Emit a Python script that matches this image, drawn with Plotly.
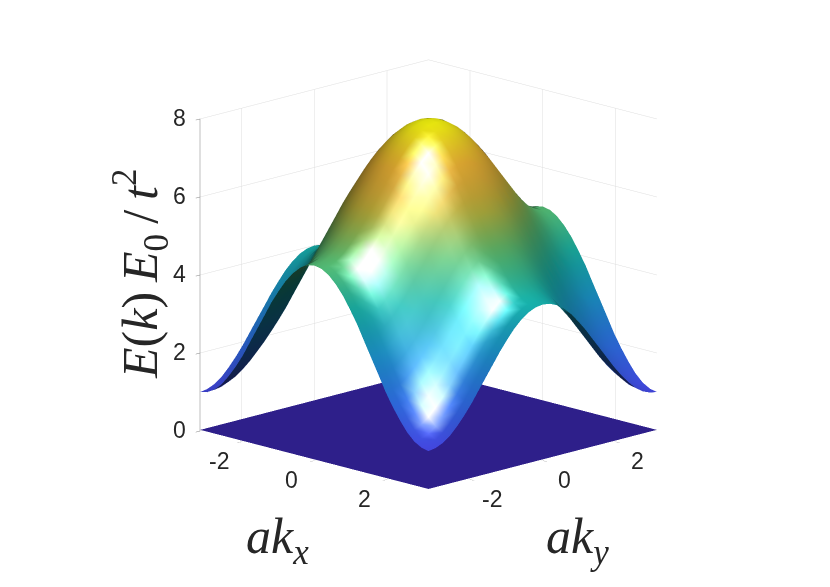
import numpy as np
import plotly.graph_objects as go

# k axes, pi/16 steps
ak_half = [-3.14, -2.95, -2.75, -2.55, -2.36, -2.16, -1.96, -1.77, -1.57, -1.37, -1.18, -0.98, -0.79, -0.59, -0.39, -0.20, 0]
ak_x = ak_half + [-k for k in ak_half[-2::-1]]
ak_y = ak_half + [-k for k in ak_half[-2::-1]]

# upper band, one quadrant (the band is mirrored about both axes)
quadrant = [
    [1.00, 1.04, 1.15, 1.34, 1.59, 1.89, 2.23, 2.61, 3.00, 3.39, 3.77, 4.11, 4.41, 4.66, 4.85, 4.96, 5.00],
    [1.03, 1.07, 1.18, 1.37, 1.62, 1.92, 2.26, 2.64, 3.03, 3.42, 3.80, 4.14, 4.44, 4.69, 4.88, 4.99, 5.03],
    [1.11, 1.15, 1.26, 1.45, 1.70, 2.00, 2.34, 2.72, 3.11, 3.50, 3.88, 4.22, 4.52, 4.77, 4.96, 5.07, 5.11],
    [1.25, 1.29, 1.40, 1.59, 1.84, 2.14, 2.48, 2.86, 3.25, 3.64, 4.02, 4.36, 4.66, 4.91, 5.10, 5.21, 5.25],
    [1.44, 1.48, 1.59, 1.78, 2.03, 2.33, 2.67, 3.05, 3.44, 3.83, 4.21, 4.55, 4.85, 5.10, 5.29, 5.40, 5.44],
    [1.67, 1.71, 1.82, 2.01, 2.26, 2.56, 2.90, 3.28, 3.67, 4.06, 4.44, 4.78, 5.08, 5.33, 5.52, 5.63, 5.67],
    [1.93, 1.97, 2.08, 2.27, 2.52, 2.82, 3.16, 3.54, 3.93, 4.32, 4.70, 5.04, 5.34, 5.59, 5.78, 5.89, 5.93],
    [2.21, 2.25, 2.36, 2.55, 2.80, 3.10, 3.44, 3.82, 4.21, 4.60, 4.98, 5.32, 5.62, 5.87, 6.06, 6.17, 6.21],
    [2.50, 2.54, 2.65, 2.84, 3.09, 3.39, 3.73, 4.11, 4.50, 4.89, 5.27, 5.61, 5.91, 6.16, 6.35, 6.46, 6.50],
    [2.79, 2.83, 2.94, 3.13, 3.38, 3.68, 4.02, 4.40, 4.79, 5.18, 5.56, 5.90, 6.20, 6.45, 6.64, 6.75, 6.79],
    [3.07, 3.11, 3.22, 3.41, 3.66, 3.96, 4.30, 4.68, 5.07, 5.46, 5.84, 6.18, 6.48, 6.73, 6.92, 7.03, 7.07],
    [3.33, 3.37, 3.48, 3.67, 3.92, 4.22, 4.56, 4.94, 5.33, 5.72, 6.10, 6.44, 6.74, 6.99, 7.18, 7.29, 7.33],
    [3.56, 3.60, 3.71, 3.90, 4.15, 4.45, 4.79, 5.17, 5.56, 5.95, 6.33, 6.67, 6.97, 7.22, 7.41, 7.52, 7.56],
    [3.75, 3.79, 3.90, 4.09, 4.34, 4.64, 4.98, 5.36, 5.75, 6.14, 6.52, 6.86, 7.16, 7.41, 7.60, 7.71, 7.75],
    [3.89, 3.93, 4.04, 4.23, 4.48, 4.78, 5.12, 5.50, 5.89, 6.28, 6.66, 7.00, 7.30, 7.55, 7.74, 7.85, 7.89],
    [3.97, 4.01, 4.12, 4.31, 4.56, 4.86, 5.20, 5.58, 5.97, 6.36, 6.74, 7.08, 7.38, 7.63, 7.82, 7.93, 7.97],
    [4.00, 4.04, 4.15, 4.34, 4.59, 4.89, 5.23, 5.61, 6.00, 6.39, 6.77, 7.11, 7.41, 7.66, 7.85, 7.96, 8.00],
]
half_rows = [row + row[-2::-1] for row in quadrant]
upper_band = half_rows + half_rows[-2::-1]

# the flat band sits just above the floor so the floor grid stays hidden
flat_x = [-3.14, 3.14]
flat_y = [-3.14, 3.14]
flat_band = [[0.03, 0.03], [0.03, 0.03]]

xy_ticks = [-2, 0, 2]
xy_labels = ['-2', '0', '2']
z_ticks = [0, 2, 4, 6, 8]

parula_stops = [0, 0.127, 0.254, 0.381, 0.508, 0.635, 0.762, 0.825, 0.889, 0.952, 1]
parula_rgb = [(62, 38, 168), (72, 77, 240), (50, 124, 252), (32, 165, 227), (25, 191, 182),
              (95, 200, 120), (204, 191, 64), (235, 186, 61), (253, 191, 56), (247, 222, 36), (249, 251, 14)]

# view and light directions in the unit box (MATLAB-style phong, baked into vertex colours)
view_dir = np.array([0.683, -0.683, 0.259])
light_dir = np.array([0.375, -0.195, 0.886])
ka, kd, ks, shine = 0.3, 0.65, 1.35, 17

Z = np.array(upper_band)
X, Y = np.meshgrid(ak_x, ak_y)
dzdx = np.gradient(Z, ak_x, axis=1) * 6.28 / 8
dzdy = np.gradient(Z, ak_y, axis=0) * 6.28 / 8
normal = np.stack([-dzdx, -dzdy, np.ones_like(Z)], axis=-1)
normal /= np.linalg.norm(normal, axis=-1, keepdims=True)
# parts seen from below get the flipped normal
normal[normal @ view_dir < 0] *= -1

n_dot_l = normal @ light_dir
reflected = 2 * n_dot_l[..., None] * normal - light_dir
spec = np.clip(reflected @ view_dir, 0, None) ** shine
base = np.stack([np.interp(Z / 8, parula_stops, [c[i] for c in parula_rgb]) for i in range(3)], axis=-1)
lit = base * (ka + kd * np.clip(n_dot_l, 0, None))[..., None] + 255 * ks * spec[..., None]
lit = np.clip(lit, 0, 255).astype(int).reshape(-1, 3)
vertex_colors = [f'rgb({r},{g},{b})' for r, g, b in lit]

ny, nx = Z.shape
idx = np.arange(nx * ny).reshape(ny, nx)
tri_i = np.concatenate([idx[:-1, :-1].ravel(), idx[1:, 1:].ravel()])
tri_j = np.concatenate([idx[:-1, 1:].ravel(), idx[1:, :-1].ravel()])
tri_k = np.concatenate([idx[1:, 1:].ravel(), idx[:-1, :-1].ravel()])

fig = go.Figure()
fig.add_trace(go.Surface(x=flat_x, y=flat_y, z=flat_band, surfacecolor=flat_band,
                         colorscale=[[0, '#2e1f8a'], [1, '#2e1f8a']], cmin=0, cmax=8, showscale=False,
                         lighting=dict(ambient=1, diffuse=0, specular=0, fresnel=0)))
fig.add_trace(go.Mesh3d(x=X.ravel(), y=Y.ravel(), z=Z.ravel(), i=tri_i, j=tri_j, k=tri_k,
                        vertexcolor=vertex_colors,
                        lighting=dict(ambient=1, diffuse=0, specular=0, fresnel=0)))

axis_common = dict(showbackground=False, showgrid=True, gridcolor='#dedede', gridwidth=1,
                   zeroline=False, linecolor='#808080', linewidth=1, showticklabels=False,
                   ticks='outside', ticklen=6, tickcolor='#808080', title='', showspikes=False)

# tick labels are scene annotations so they can sit where MATLAB puts them
tick_font = dict(family='Liberation Sans', size=23, color='#262626')
tick_notes = []
for v, label in zip(xy_ticks, xy_labels):
    tick_notes.append(dict(x=v, y=-3.14, z=0, text=label, showarrow=False, xshift=-23, yshift=-20, font=tick_font))
    tick_notes.append(dict(x=3.14, y=v, z=0, text=label, showarrow=False, xshift=22, yshift=-20, font=tick_font))
for v in z_ticks:
    tick_notes.append(dict(x=-3.14, y=-3.14, z=v, text=str(v), showarrow=False, xshift=-21, yshift=1, font=tick_font))

fig.update_layout(
    width=830, height=587, showlegend=False, paper_bgcolor='white',
    margin=dict(l=0, r=0, t=0, b=0),
    scene=dict(
        domain=dict(x=[0.0135, 1.0], y=[0.091, 1.0]),
        aspectmode='manual', aspectratio=dict(x=1.21, y=1.21, z=1.21),
        camera=dict(eye=dict(x=1.3, y=-1.3, z=0.4929), center=dict(x=0, y=0, z=0),
                    projection=dict(type='orthographic')),
        xaxis=dict(range=[-3.14, 3.14], tickvals=xy_ticks, showline=False, **axis_common),
        yaxis=dict(range=[-3.14, 3.14], tickvals=xy_ticks, showline=False, **axis_common),
        zaxis=dict(range=[0, 8], tickvals=z_ticks, showline=True, **axis_common),
        annotations=tick_notes,
    ),
    annotations=[
        dict(text='<i>ak<sub>x</sub></i>', x=269/830, y=1-532/587, xref='paper', yref='paper', showarrow=False,
             xanchor='center', yanchor='middle',
             font=dict(family='Liberation Serif', size=50, color='#262626')),
        dict(text='<i>ak<sub>y</sub></i>', x=569/830, y=1-532/587, xref='paper', yref='paper', showarrow=False,
             xanchor='center', yanchor='middle',
             font=dict(family='Liberation Serif', size=50, color='#262626')),
        dict(text='<i>E</i>(<i>k</i>)\u2009<i>E</i><sub>0</sub>\u2009/\u2009<i>t</i><sup>2</sup>', x=132/830, y=1-266/587,
             xref='paper', yref='paper', showarrow=False, textangle=-90, xanchor='center', yanchor='middle',
             font=dict(family='Liberation Serif', size=50, color='#262626')),
    ],
)

fig.write_html("out.html")
